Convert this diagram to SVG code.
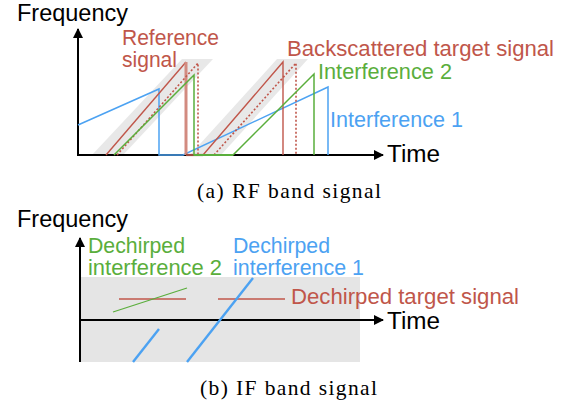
<svg xmlns="http://www.w3.org/2000/svg" width="569" height="407" viewBox="0 0 569 407">
  <style>
    .lbl { font-family: "Liberation Sans", Arial, Helvetica, sans-serif; }
    .axis-lbl { font-size: 23.5px; fill: #000; }
    .cap { font-family: "Liberation Serif", "Times New Roman", serif; font-size: 21.5px; fill: #000; }
    .c-red { fill: #c0564a; font-size: 21.5px; }
    .c-green { fill: #5aae3c; font-size: 21.5px; }
    .c-blue { fill: #4ca2f2; font-size: 21.5px; }
    .axis { stroke: #000; stroke-width: 2; fill: none; }
    .band { fill: #e8e8e8; stroke: none; }
    .ref { stroke: #c0564a; stroke-width: 1.4; fill: none; }
    .tgt { stroke: #c0564a; stroke-width: 1.6; stroke-dasharray: 2 2; fill: none; }
    .int2 { stroke: #5aae3c; stroke-width: 1.5; fill: none; }
    .int1 { stroke: #4ca2f2; stroke-width: 1.5; fill: none; }
    .if-red { stroke: #c0564a; stroke-width: 1.4; fill: none; }
    .if-green { stroke: #5aae3c; stroke-width: 1.2; fill: none; }
    .if-blue { stroke: #4ca2f2; stroke-width: 2.4; fill: none; }
  </style>
  <defs>
    <marker id="arrow" viewBox="0 0 10 10" refX="9" refY="5" markerWidth="5" markerHeight="5" orient="auto" markerUnits="strokeWidth">
      <path d="M0,0 L10,5 L0,10 z" fill="#000"/>
    </marker>
  </defs>
  <rect width="569" height="407" fill="#fff"/>

  <!-- (a) RF band -->
  <g id="rf-plot">
    <g id="rf-bands">
      <polygon class="band" points="92,155 123,155 213,59 182,59"/>
      <polygon class="band" points="190,155 221,155 308,59 277,59"/>
    </g>

    <g id="rf-axes">
      <line class="axis" x1="78" y1="155" x2="78" y2="29" marker-end="url(#arrow)"/>
      <line class="axis" x1="77" y1="155" x2="383" y2="155" marker-end="url(#arrow)"/>
    </g>

    <g id="rf-interference1">
      <polyline class="int1" points="78,125 159,89 159,155 183,155 328,87 328,155"/>
    </g>

    <g id="rf-reference">
      <polyline class="ref" points="106,155 186,62"/>
      <line x1="186" y1="62" x2="186" y2="155" stroke="#d28b80" stroke-width="3"/>
      <line x1="186" y1="155" x2="203" y2="155" stroke="#9c4a3e" stroke-width="2.2"/>
      <polyline class="ref" points="203,155 283,62 283,155"/>
    </g>

    <g id="rf-target">
      <polyline class="tgt" points="117,155 198,63 198,155"/>
      <polyline class="tgt" points="214,155 296,63 296,155"/>
    </g>

    <g id="rf-interference2">
      <polyline class="int2" points="114,155 194,75 194,155 233,155 314,74 314,155"/>
      <line x1="194" y1="155" x2="233" y2="155" stroke="#5aae3c" stroke-width="2.2"/>
    </g>

    <g id="rf-labels" class="lbl">
      <text class="axis-lbl" x="17" y="21" textLength="111" lengthAdjust="spacingAndGlyphs">Frequency</text>
      <text class="axis-lbl" x="387" y="162" textLength="53" lengthAdjust="spacingAndGlyphs">Time</text>
      <text class="c-red" x="122" y="45" textLength="97" lengthAdjust="spacingAndGlyphs">Reference</text>
      <text class="c-red" x="122" y="67" textLength="55" lengthAdjust="spacingAndGlyphs">signal</text>
      <text class="c-red" x="287" y="56" textLength="267" lengthAdjust="spacingAndGlyphs">Backscattered target signal</text>
      <text class="c-green" x="318" y="79" textLength="134" lengthAdjust="spacingAndGlyphs">Interference 2</text>
      <text class="c-blue" x="330" y="127" textLength="133" lengthAdjust="spacingAndGlyphs">Interference 1</text>
    </g>

    <text class="cap" x="197" y="198" textLength="184" lengthAdjust="spacing">(a) RF band signal</text>
  </g>

  <!-- (b) IF band -->
  <g id="if-plot">
    <rect id="if-band" x="80" y="277" width="280" height="85" fill="#e5e5e5"/>

    <g id="if-axes">
      <line class="axis" x1="80" y1="362" x2="80" y2="238" marker-end="url(#arrow)"/>
      <line class="axis" x1="80" y1="320" x2="383" y2="320" marker-end="url(#arrow)"/>
    </g>

    <g id="if-target">
      <line class="if-red" x1="119" y1="299" x2="186" y2="299"/>
      <line class="if-red" x1="218" y1="299" x2="285" y2="299"/>
    </g>

    <g id="if-interference2">
      <line class="if-green" x1="113" y1="312" x2="187" y2="288"/>
    </g>

    <g id="if-interference1">
      <line class="if-blue" x1="133" y1="362" x2="159" y2="329"/>
      <line class="if-blue" x1="187" y1="362" x2="253" y2="278"/>
    </g>

    <g id="if-labels" class="lbl">
      <text class="axis-lbl" x="17" y="227" textLength="111" lengthAdjust="spacingAndGlyphs">Frequency</text>
      <text class="axis-lbl" x="387" y="329" textLength="53" lengthAdjust="spacingAndGlyphs">Time</text>
      <text class="c-green" x="88" y="253" textLength="97" lengthAdjust="spacingAndGlyphs">Dechirped</text>
      <text class="c-green" x="88" y="275" textLength="134" lengthAdjust="spacingAndGlyphs">interference 2</text>
      <text class="c-blue" x="233" y="253" textLength="97" lengthAdjust="spacingAndGlyphs">Dechirped</text>
      <text class="c-blue" x="233" y="275" textLength="131" lengthAdjust="spacingAndGlyphs">interference 1</text>
      <text class="c-red" x="291" y="304" textLength="228" lengthAdjust="spacingAndGlyphs">Dechirped target signal</text>
    </g>

    <text class="cap" x="200" y="395" textLength="177" lengthAdjust="spacing">(b) IF band signal</text>
  </g>
</svg>
